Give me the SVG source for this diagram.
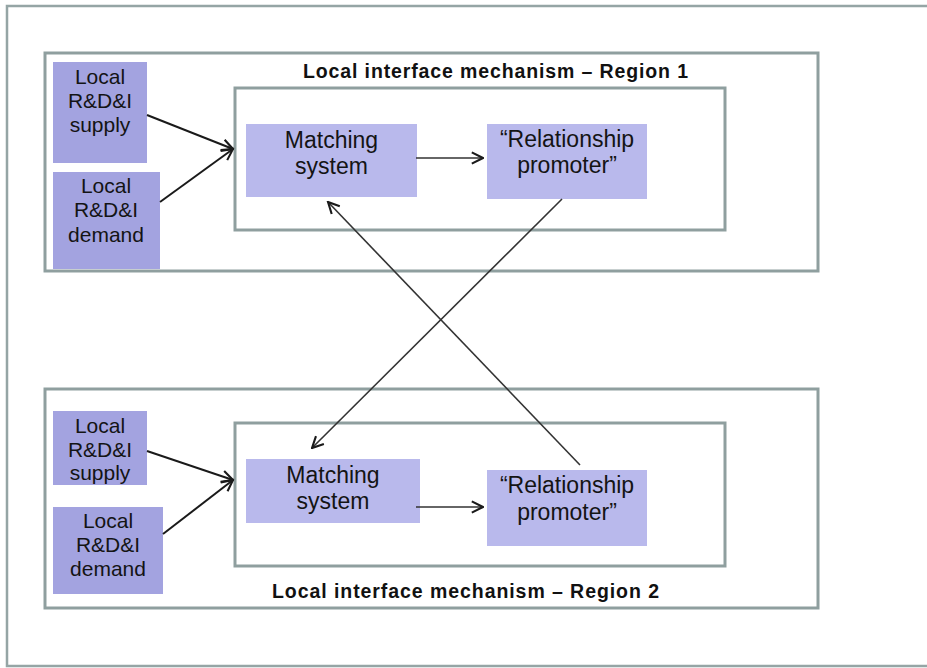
<svg xmlns="http://www.w3.org/2000/svg" width="927" height="668" viewBox="0 0 927 668">
<style>
.frame{fill:none;stroke:#8f9f9f;stroke-width:3}
.outer{fill:none;stroke:#95a5a5;stroke-width:2.5}
.src{fill:#a3a3e0}
.box{fill:#b9b9ec}
.t{font-family:"Liberation Sans",Arial,sans-serif;fill:#141414;text-anchor:middle}
.ts{font-size:21px}
.tb{font-size:23px}
.title{font-family:"Liberation Sans",Arial,sans-serif;font-weight:bold;font-size:19.5px;fill:#111}
.arr{fill:none;stroke:#1a1a1a;stroke-width:2}
.arr2{fill:none;stroke:#333;stroke-width:1.6}
</style>
<defs>
<marker id="ah" viewBox="0 0 10 10" refX="9" refY="5" markerWidth="14" markerHeight="14" markerUnits="userSpaceOnUse" orient="auto">
<path d="M1,1 L9,5 L1,9" fill="none" stroke="#1a1a1a" stroke-width="1.5"/>
</marker>
</defs>
<rect width="927" height="668" fill="#ffffff"/>
<path class="outer" d="M927,6 L7,6 L7,666 L927,666"/>

<g id="region1">
<rect class="frame" x="45" y="53" width="773" height="218"/>
<text class="title" x="303" y="78" textLength="385" lengthAdjust="spacing">Local interface mechanism – Region 1</text>
<rect class="frame" x="235" y="88" width="490" height="142"/>
</g>
<g id="supply1">
<rect class="src" x="53" y="62" width="94" height="101"/>
<text class="t ts" x="100" y="84">Local</text>
<text class="t ts" x="100" y="108">R&amp;D&amp;I</text>
<text class="t ts" x="100" y="132">supply</text>
</g>
<g id="demand1">
<rect class="src" x="53" y="172" width="107" height="97"/>
<text class="t ts" x="106" y="193">Local</text>
<text class="t ts" x="106" y="217">R&amp;D&amp;I</text>
<text class="t ts" x="106" y="242">demand</text>
</g>
<g id="matching1">
<rect class="box" x="246" y="124" width="171" height="73"/>
<text class="t tb" x="331.5" y="148">Matching</text>
<text class="t tb" x="331.5" y="174">system</text>
</g>
<g id="promoter1">
<rect class="box" x="487" y="124" width="160" height="75"/>
<text class="t tb" x="567" y="147">“Relationship</text>
<text class="t tb" x="567" y="173">promoter”</text>
</g>

<g id="region2">
<rect class="frame" x="45" y="389" width="773" height="219"/>
<rect class="frame" x="235" y="423" width="490" height="143"/>
<text class="title" x="272" y="598" textLength="387" lengthAdjust="spacing">Local interface mechanism – Region 2</text>
</g>
<g id="supply2">
<rect class="src" x="53" y="411" width="94" height="74"/>
<text class="t ts" x="100" y="433">Local</text>
<text class="t ts" x="100" y="457">R&amp;D&amp;I</text>
<text class="t ts" x="100" y="480">supply</text>
</g>
<g id="demand2">
<rect class="src" x="53" y="507" width="110" height="87"/>
<text class="t ts" x="108" y="528">Local</text>
<text class="t ts" x="108" y="552">R&amp;D&amp;I</text>
<text class="t ts" x="108" y="576">demand</text>
</g>
<g id="matching2">
<rect class="box" x="246" y="459" width="174" height="64"/>
<text class="t tb" x="333" y="483">Matching</text>
<text class="t tb" x="333" y="509">system</text>
</g>
<g id="promoter2">
<rect class="box" x="487" y="470" width="160" height="76"/>
<text class="t tb" x="567" y="493">“Relationship</text>
<text class="t tb" x="567" y="520">promoter”</text>
</g>

<g id="connectors">
<line class="arr" x1="147" y1="115" x2="233" y2="149" marker-end="url(#ah)"/>
<line class="arr" x1="160" y1="202" x2="233" y2="149" marker-end="url(#ah)"/>
<line class="arr2" x1="416" y1="158" x2="483" y2="158" marker-end="url(#ah)"/>
<line class="arr" x1="147" y1="451" x2="233" y2="480" marker-end="url(#ah)"/>
<line class="arr" x1="163" y1="534" x2="233" y2="480" marker-end="url(#ah)"/>
<line class="arr2" x1="416" y1="507" x2="483" y2="507" marker-end="url(#ah)"/>
<line class="arr2" x1="562" y1="199" x2="312" y2="448" marker-end="url(#ah)"/>
<line class="arr2" x1="580" y1="465" x2="328" y2="202" marker-end="url(#ah)"/>
</g>
</svg>
